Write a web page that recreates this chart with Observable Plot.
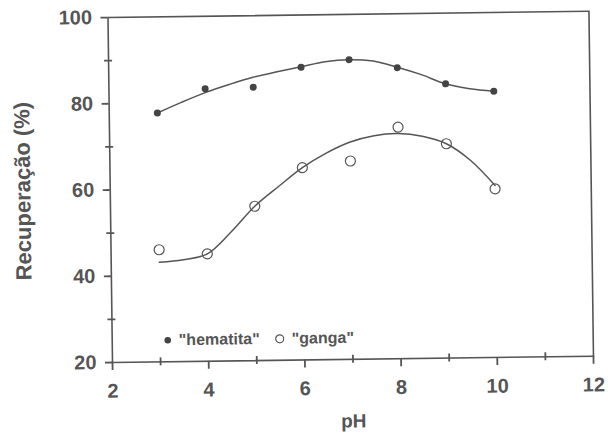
<!DOCTYPE html>
<html>
<head>
<meta charset="utf-8">
<script src="https://cdn.jsdelivr.net/npm/d3@7"></script>
<script src="https://cdn.jsdelivr.net/npm/@observablehq/plot@0.6"></script>
<style>
  html, body { margin: 0; padding: 0; background: #fff; }
  #wrap { position: relative; width: 608px; height: 435px; transform: rotate(-0.75deg); transform-origin: 112px 362px; }
  #legend { position: absolute; left: 163px; top: 333px; display: flex; align-items: center;
    font-family: "Liberation Sans", Arial, sans-serif; font-weight: bold; font-size: 16px; color: #555; line-height: 16px; }
  #legend .sw { display: inline-block; width: 10px; height: 10px; margin-right: 6px; }
  #legend .item { display: flex; align-items: center; }
  #legend .item + .item { margin-left: 15px; }
  #legend .item + .item .sw { margin-right: 7px; }
</style>
</head>
<body>
<div id="wrap"></div>
<script>
// Measured points
const pH = [3, 4, 5, 6, 7, 8, 9, 10];
const hematita = [77.7, 83.2, 83.4, 87.9, 89.5, 87.5, 83.6, 81.75];
const ganga = [46.0, 44.9, 55.8, 64.6, 66.0, 73.7, 69.7, 59.1];

// Fitted curves
const curvePH = [3, 3.5, 4, 4.5, 5, 5.5, 6, 6.5, 7, 7.5, 8, 8.5, 9, 9.5, 10];
const hematitaCurve = [77.7, 80.1, 82.3, 84.1, 85.7, 86.9, 88.0, 89.1, 89.5, 89.1, 87.6, 85.8, 83.6, 82.4, 81.75];
const gangaCurve = [43.1, 43.6, 44.9, 49.9, 55.8, 60.3, 64.6, 67.9, 70.4, 71.8, 72.2, 71.5, 69.7, 65.75, 59.9];

// Ticks
const xMajor = [2, 4, 6, 8, 10, 12];
const xMinor = [3, 5, 7, 9, 11];
const yMajor = [20, 40, 60, 80, 100];
const yMinor = [30, 50, 70, 90];

const seriesNames = ["\"hematita\"", "\"ganga\""];
const xLabel = "pH";
const yLabel = "Recupera\u00e7\u00e3o (%)";

const hemPts = pH.map((x, i) => ({x, y: hematita[i]}));
const ganPts = pH.map((x, i) => ({x, y: ganga[i]}));
const hemFit = curvePH.map((x, i) => ({x, y: hematitaCurve[i]}));
const ganFit = curvePH.map((x, i) => ({x, y: gangaCurve[i]}));

const ink = "#555";

const chart = Plot.plot({
  width: 608,
  height: 435,
  marginLeft: 112,
  marginRight: 15,
  marginTop: 17,
  marginBottom: 73,
  x: {domain: [2, 12]},
  y: {domain: [20, 100]},
  style: {fontFamily: "'Liberation Sans', Arial, sans-serif", fontWeight: "bold", color: ink, background: "transparent", overflow: "visible"},
  marks: [
    Plot.axisY(yMajor, {tickSize: 7, tickPadding: 9, fontSize: 20, stroke: ink, strokeWidth: 1.8, label: null}),
    Plot.axisY(yMinor, {tickSize: 8, dx: 4, stroke: ink, strokeWidth: 1.8, tickFormat: () => "", label: null}),
    Plot.axisX(xMajor, {tickSize: 8, tickPadding: 13, fontSize: 20, stroke: ink, strokeWidth: 1.8, label: null}),
    Plot.axisX(xMinor, {tickSize: 8, dy: -4, stroke: ink, strokeWidth: 1.8, tickFormat: () => "", label: null}),
    Plot.frame({stroke: ink, strokeWidth: 1.6}),
    Plot.line(hemFit, {x: "x", y: "y", curve: "catmull-rom", stroke: ink, strokeWidth: 1.5}),
    Plot.line(ganFit, {x: "x", y: "y", curve: "catmull-rom", stroke: ink, strokeWidth: 1.5}),
    Plot.dot(hemPts, {x: "x", y: "y", r: 3.5, fill: "#444"}),
    Plot.dot(ganPts, {x: "x", y: "y", r: 5, fill: "none", stroke: ink, strokeWidth: 1.2}),
    Plot.text([yLabel], {frameAnchor: "left", textAnchor: "middle", lineAnchor: "middle", rotate: -90, dx: -87, fontSize: 22, fontWeight: "bold", fill: ink}),
    Plot.text([xLabel], {frameAnchor: "bottom", textAnchor: "middle", lineAnchor: "middle", dy: 62, fontSize: 19, fontWeight: "bold", fill: ink})
  ]
});

const wrap = document.getElementById("wrap");
wrap.appendChild(chart);

const legend = document.createElement("div");
legend.id = "legend";
legend.innerHTML =
  `<span class="item"><svg class="sw" viewBox="0 0 10 10"><circle cx="5" cy="5" r="3.3" fill="#444"/></svg>${seriesNames[0]}</span>` +
  `<span class="item"><svg class="sw" viewBox="0 0 10 10"><circle cx="5" cy="5" r="4" fill="none" stroke="${ink}" stroke-width="1.2"/></svg>${seriesNames[1]}</span>`;
wrap.appendChild(legend);
</script>
</body>
</html>
